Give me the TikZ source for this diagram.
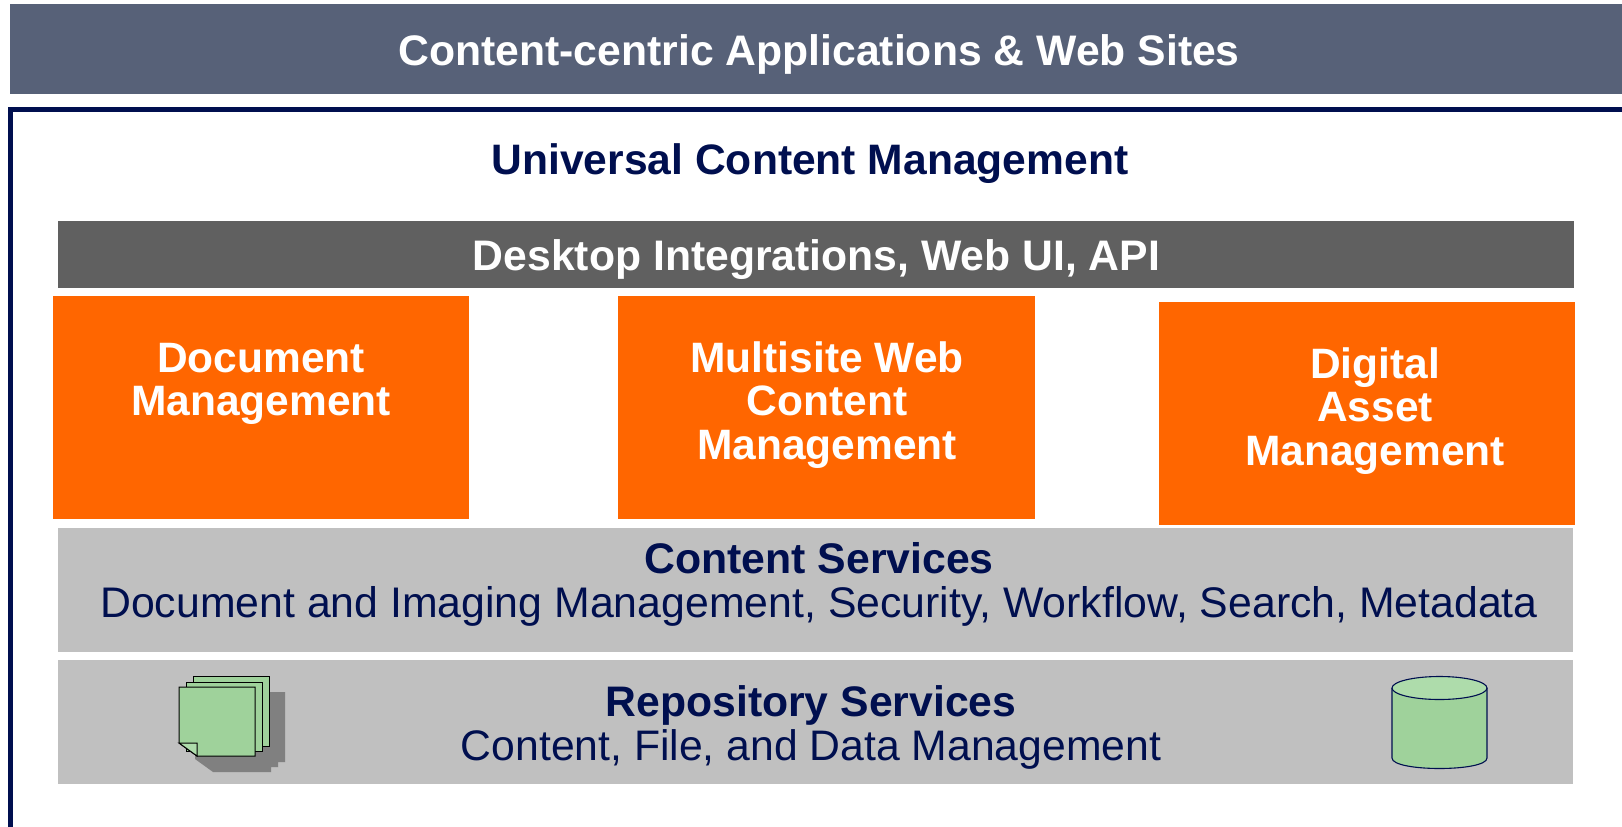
\documentclass[tikz,border=0pt]{standalone}
\usepackage{fontspec}
\setmainfont{Liberation Sans}
\definecolor{slatebar}{HTML}{576178}
\definecolor{navy}{HTML}{000F4F}
\definecolor{darkbar}{HTML}{606060}
\definecolor{orangebox}{HTML}{FF6600}
\definecolor{greybox}{HTML}{C0C0C0}
\definecolor{sheet}{HTML}{9FD29B}
\definecolor{cyltop}{HTML}{AEDCAB}
\definecolor{dropcolor}{HTML}{808080}
\tikzset{
  x=1pt,y=-1pt,
  band/.style={inner sep=0pt,outer sep=0pt,align=center},
  orangetext/.style={band,text=white,font=\fontsize{42.5}{43.5}\selectfont\bfseries},
  sheetshape/.style={fill=sheet,draw=black,line width=1pt,line join=miter},
  cylline/.style={draw=navy,line width=1.1pt},
}
\begin{document}
\begin{tikzpicture}
\useasboundingbox (0,0) rectangle (1622,827);
\fill[white] (0,0) rectangle (1622,827);
% top bar
\fill[slatebar] (10,4) rectangle (1622,94);
\node[band,text=white,font=\fontsize{42.7}{44}\selectfont\bfseries] (apps) at (819,54) {Content-centric Applications \& Web Sites};
% frame
\draw[navy,line width=5.5pt,line cap=butt] (10.7,827) -- (10.7,109.7) -- (1622,109.7);
\node[band,text=navy,font=\fontsize{42.6}{44}\selectfont\bfseries] (ucm) at (810,163.5) {Universal Content Management};
% desktop
\fill[darkbar] (58,221) rectangle (1574,288);
\node[band,text=white,font=\fontsize{42.7}{44}\selectfont\bfseries] (desk) at (816.5,260) {Desktop Integrations, Web UI, API};
% orange
\fill[orangebox] (53,296) rectangle (469,519);
\node[orangetext] (dm) at (261,384) {Document\\Management};
\fill[orangebox] (618,296) rectangle (1035,519);
\node[orangetext] (wcm) at (827,405) {Multisite Web\\Content\\Management};
\fill[orangebox] (1159,302) rectangle (1575,525);
\node[orangetext] (dam) at (1375,411) {Digital\\Asset\\Management};
% content services
\fill[greybox] (58,527.5) rectangle (1573,651.5);
\node[band,text=navy,font=\fontsize{42.8}{44}\selectfont] (cs) at (819,584) {{\bfseries Content Services}\\Document and Imaging Management, Security, Workflow, Search, Metadata};
% repository
\fill[greybox] (58,659.5) rectangle (1573,783.5);
\node[band,text=navy,font=\fontsize{42.7}{44}\selectfont] (rs) at (811,727) {{\bfseries Repository Services}\\Content, File, and Data Management};
% stack icon
\fill[dropcolor] (195,759) -- (213,772) -- (271,772) -- (271,767) -- (278,767) -- (278,762) -- (285,762) -- (285,692) -- (200,692) -- cycle;
\filldraw[sheetshape] (193,676) rectangle (269,746);
\filldraw[sheetshape] (186,682) rectangle (262,751);
\filldraw[sheetshape] (179,687) -- (255,687) -- (255,756) -- (197,756) -- (179,743) -- cycle;
\filldraw[sheetshape,fill=cyltop] (179,743) -- (197,743) -- (197,756) -- cycle;
% cylinder
\fill[sheet] (1392,688) -- (1392,758) .. controls (1392,772) and (1487,772) .. (1487,758) -- (1487,688) -- cycle;
\draw[cylline] (1392,688) -- (1392,758) .. controls (1392,772) and (1487,772) .. (1487,758) -- (1487,688);
\filldraw[cylline,fill=cyltop] (1439.5,688) ellipse [x radius=47.5,y radius=11.5];
\end{tikzpicture}
\end{document}
